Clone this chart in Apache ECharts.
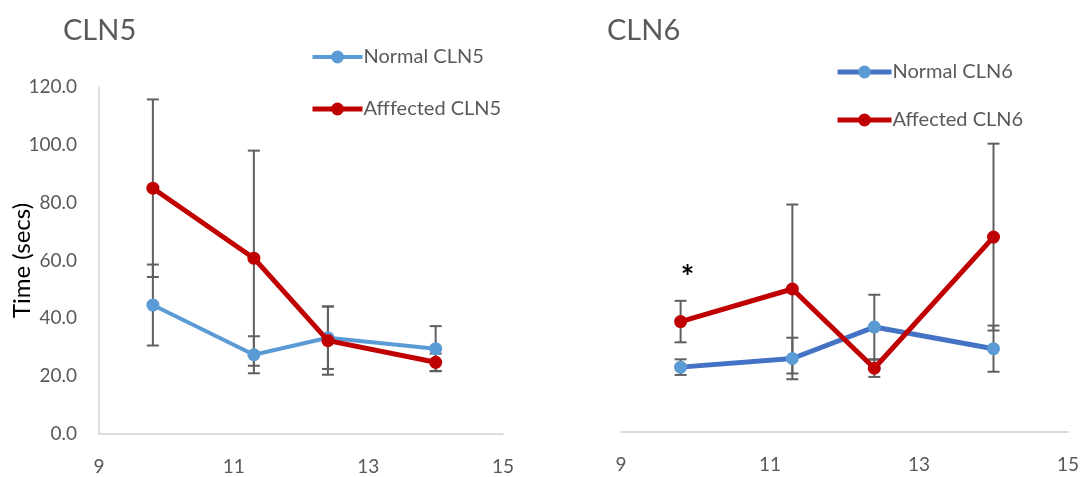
<!DOCTYPE html>
<html>
<head>
<meta charset="utf-8">
<script src="https://cdn.jsdelivr.net/npm/echarts@6/dist/echarts.min.js"></script>
<style>
  html, body { margin: 0; padding: 0; background: #fff; }
  #chart { width: 1092px; height: 477px; }
</style>
</head>
<body>
<div id="chart"></div>
<script>
// Age points (x) shared by both panels
const ages = [9.8, 11.3, 12.4, 14.0];

// CLN5 panel: means and error (±) in seconds
const normalCLN5 = [44.6, 27.4, 33.3, 29.5];
const normalCLN5Err = [14.0, 6.4, 10.8, 7.8];
const affectedCLN5 = [85.0, 60.8, 32.3, 24.8];
const affectedCLN5Err = [30.7, 37.2, 11.8, 3.0];

// CLN6 panel: means and error (±) in seconds
const normalCLN6 = [22.5, 25.5, 36.4, 28.9];
const normalCLN6Err = [2.7, 7.2, 11.2, 8.0];
const affectedCLN6 = [38.3, 49.6, 22.1, 67.6];
const affectedCLN6Err = [7.2, 29.3, 3.0, 32.4];

// Significance marker on the CLN6 panel
const significance = [{ x: 9.8, y: 53, text: '*' }];

const xTicks = { min: 9, max: 15, step: 2 };
const yTicks = { min: 0, max: 120, step: 20 };

const FONT = 'Lato, "Open Sans", sans-serif';
const GREY_TEXT = '#595959';
const RED = '#C00000';
const LIGHT_BLUE = '#5B9BD5';
const DARK_BLUE = '#4472C4';

function pairs(values) {
  return values.map((v, i) => [ages[i], v]);
}

function errorData(values, errs) {
  return values.map((v, i) => [ages[i], v - errs[i], v + errs[i]]);
}

function errorSeries(values, errs, gridIdx) {
  return {
    type: 'custom',
    xAxisIndex: gridIdx,
    yAxisIndex: gridIdx,
    z: 1,
    silent: true,
    data: errorData(values, errs),
    renderItem: function (params, api) {
      const x = api.value(0);
      const lo = api.coord([x, api.value(1)]);
      const hi = api.coord([x, api.value(2)]);
      const half = 6;
      const style = { stroke: '#5f5f5f', lineWidth: 2 };
      return {
        type: 'group',
        children: [
          { type: 'line', shape: { x1: lo[0], y1: lo[1], x2: hi[0], y2: hi[1] }, style },
          { type: 'line', shape: { x1: lo[0] - half, y1: lo[1], x2: lo[0] + half, y2: lo[1] }, style },
          { type: 'line', shape: { x1: hi[0] - half, y1: hi[1], x2: hi[0] + half, y2: hi[1] }, style }
        ]
      };
    }
  };
}

function lineSeries(name, values, gridIdx, lineColor, markerColor, width, z) {
  return {
    name: name,
    type: 'line',
    xAxisIndex: gridIdx,
    yAxisIndex: gridIdx,
    data: pairs(values),
    symbol: 'circle',
    symbolSize: 13,
    z: z,
    lineStyle: { color: lineColor, width: width },
    itemStyle: { color: markerColor },
    emphasis: { disabled: true }
  };
}

function xAxis(gridIdx) {
  return {
    type: 'value',
    gridIndex: gridIdx,
    min: xTicks.min,
    max: xTicks.max,
    interval: xTicks.step,
    axisLine: { show: true, lineStyle: { color: '#D0D0D0', width: 1.5 } },
    axisTick: { show: false },
    splitLine: { show: false },
    axisLabel: { color: GREY_TEXT, fontSize: 19, fontFamily: FONT, margin: 23 }
  };
}

function yAxis(gridIdx, showLabels) {
  return {
    type: 'value',
    gridIndex: gridIdx,
    min: yTicks.min,
    max: yTicks.max,
    interval: yTicks.step,
    name: showLabels ? 'Time (secs)' : '',
    nameLocation: 'middle',
    nameGap: 65,
    nameMoveOverlap: false,
    nameTextStyle: { color: '#000', fontSize: 24, fontFamily: FONT },
    axisLine: { show: showLabels, lineStyle: { color: '#D9D9D9', width: 1.5 } },
    axisTick: { show: false },
    splitLine: { show: false },
    axisLabel: {
      show: showLabels,
      color: GREY_TEXT,
      fontSize: 19,
      fontFamily: FONT,
      margin: 22,
      formatter: v => v.toFixed(1)
    }
  };
}

function legend(names, left, top, gap, width) {
  return {
    data: names,
    orient: 'vertical',
    left: left,
    top: top,
    itemWidth: width,
    itemHeight: 16,
    itemGap: gap,
    lineStyle: { width: 'inherit' },
    textStyle: { color: GREY_TEXT, fontSize: 20, fontFamily: FONT, padding: [0, 0, 0, -4] }
  };
}

const chart = echarts.init(document.getElementById('chart'), null, { renderer: 'canvas' });

const affected6 = lineSeries('Affected CLN6', affectedCLN6, 1, RED, RED, 5, 4);
affected6.markPoint = {
  symbol: 'circle',
  symbolSize: 1,
  itemStyle: { color: 'rgba(0,0,0,0)' },
  label: {
    show: true,
    position: 'inside',
    offset: [7, 0],
    color: '#000',
    fontSize: 32,
    fontWeight: 'bold',
    fontFamily: FONT,
    formatter: p => p.data.text
  },
  data: significance.map(s => ({ coord: [s.x, s.y], text: s.text }))
};

chart.setOption({
  animation: false,
  backgroundColor: '#fff',
  title: [
    { text: 'CLN5', left: 58, top: 11, textStyle: { color: GREY_TEXT, fontSize: 29, fontWeight: 'normal', fontFamily: FONT } },
    { text: 'CLN6', left: 602, top: 11, textStyle: { color: GREY_TEXT, fontSize: 29, fontWeight: 'normal', fontFamily: FONT } }
  ],
  legend: [
    legend(['Normal CLN5', 'Afffected CLN5'], 305, 42, 32, 50),
    legend(['Normal CLN6', 'Affected CLN6'], 830, 57, 28, 54)
  ],
  grid: [
    { left: 99, width: 404, top: 87, height: 347 },
    { left: 621, width: 447, top: 86, height: 346 }
  ],
  xAxis: [xAxis(0), xAxis(1)],
  yAxis: [yAxis(0, true), yAxis(1, false)],
  series: [
    errorSeries(normalCLN5, normalCLN5Err, 0),
    errorSeries(affectedCLN5, affectedCLN5Err, 0),
    lineSeries('Normal CLN5', normalCLN5, 0, LIGHT_BLUE, LIGHT_BLUE, 4, 3),
    lineSeries('Afffected CLN5', affectedCLN5, 0, RED, RED, 5, 4),
    errorSeries(normalCLN6, normalCLN6Err, 1),
    errorSeries(affectedCLN6, affectedCLN6Err, 1),
    lineSeries('Normal CLN6', normalCLN6, 1, DARK_BLUE, LIGHT_BLUE, 5, 3),
    affected6
  ]
});
</script>
</body>
</html>
